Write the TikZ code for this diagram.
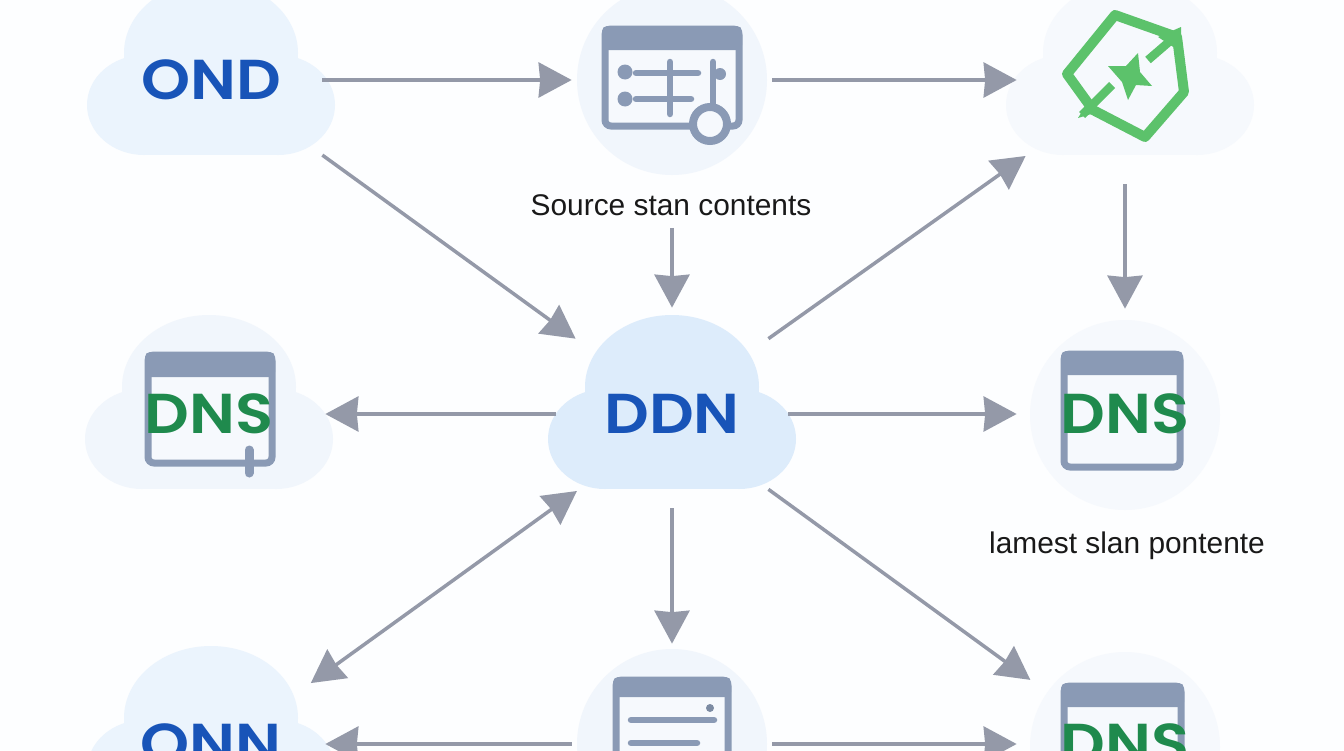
\documentclass[tikz,border=0pt]{standalone}
\usepackage{fontspec}
\setmainfont{Liberation Sans}
\newfontfamily\logofont{Poppins SemiBold}[FakeStretch=1.11]
\usetikzlibrary{positioning, arrows.meta}
\definecolor{PageWhite}{RGB}{253, 254, 255}
\definecolor{ArrowGray}{RGB}{148, 153, 168}
\definecolor{IconSlate}{RGB}{138, 154, 181}
\definecolor{WindowWhite}{RGB}{246, 249, 253}
\definecolor{LogoBlue}{RGB}{24, 84, 184}
\definecolor{LogoGreen}{RGB}{31, 138, 77}
\definecolor{BadgeGreen}{RGB}{92, 194, 107}
\definecolor{CloudMain}{RGB}{221, 236, 251}
\definecolor{CloudSoft}{RGB}{235, 244, 253}
\definecolor{CloudPale}{RGB}{241, 246, 252}
\definecolor{CloudFaint}{RGB}{246, 249, 253}

\begin{document}
\begin{tikzpicture}[
    x=0.2mm, y=-0.2mm,
    cloudhub/.style={rectangle, inner sep=0pt, font=\logofont\fontsize{32}{32}\selectfont},
    ringhub/.style={circle, inner sep=0pt, font=\logofont\fontsize{32}{32}\selectfont},
    bluetext/.style={text=LogoBlue},
    greentext/.style={text=LogoGreen},
    caption/.style={inner sep=0pt, font=\fontsize{17}{20}\selectfont, text=black!90},
    arrow/.style={-{Stealth[length=6.6mm,width=7mm,inset=0.3mm]}, line width=0.7mm, ArrowGray},
    twoway/.style={{Stealth[length=6.6mm,width=7mm,inset=0.3mm]}-{Stealth[length=6.6mm,width=7mm,inset=0.3mm]}, line width=0.7mm, ArrowGray},
    window/.style={draw=IconSlate, fill=WindowWhite, line width=1.4mm, rounded corners=1.2mm},
    titlebar/.style={fill=IconSlate, rounded corners=1mm},
    iconline/.style={IconSlate, line width=1.3mm, line cap=round}
  ]
    \useasboundingbox (0,0) rectangle (1344,750);
    \fill[PageWhite] (0,0) rectangle (1344,750);

    % Cloud backgrounds
    \foreach \x/\y/\c in {211/80/CloudSoft, 1130/80/CloudFaint, 209/414/CloudPale, 672/414/CloudMain, 211/745/CloudSoft} {
      \fill[\c] (\x,\y-27) ellipse (87*0.2mm and 72*0.2mm);
      \fill[\c] (\x-67,\y+25) ellipse (57*0.2mm and 50*0.2mm);
      \fill[\c] (\x+67,\y+25) ellipse (57*0.2mm and 50*0.2mm);
      \fill[\c] (\x-67,\y-10) rectangle (\x+67,\y+75);
    }

    % Round backgrounds
    \foreach \x/\y/\c in {672/80/CloudPale, 1125/415/CloudFaint, 672/744/CloudPale, 1125/747/CloudFaint} {
      \fill[\c] (\x,\y) circle (95*0.2mm);
    }

    % Settings window
    \draw[window] (605,29) rectangle (739,126);
    \fill[titlebar] (602,26) rectangle (742,50);
    \fill[IconSlate] (625,72) circle (7.5*0.2mm);
    \fill[IconSlate] (625,99) circle (7.5*0.2mm);
    \draw[iconline] (636,73) -- (698,73);
    \draw[iconline] (636,99) -- (691,99);
    \draw[iconline] (670,62) -- (670,114);
    \draw[iconline] (713,62) -- (713,108);
    \fill[IconSlate] (720,74) circle (6*0.2mm);
    \draw[IconSlate, fill=WindowWhite, line width=1.6mm] (710,124) circle (17*0.2mm);

    % Green badge
    \draw[BadgeGreen, line width=2mm, line join=round] (1115,15) -- (1177,37) -- (1184,92) -- (1145,137) -- (1093,110) -- (1067,74) -- cycle;
    \draw[BadgeGreen, line width=1.7mm] (1148,60) -- (1177,35);
    \draw[BadgeGreen, line width=1.7mm] (1112,85) -- (1082,115);
    \fill[BadgeGreen] (1181,27) -- (1181,52) -- (1158,37) -- cycle;
    \fill[BadgeGreen] (1078,118) -- (1088,102) -- (1098,112) -- cycle;
    \fill[BadgeGreen] (1108,66) -- (1126,66) -- (1138,53) -- (1140,72) -- (1152,86) -- (1136,85) -- (1128,100) -- (1122,82) -- cycle;

    % DNS windows
    \draw[window] (148,355) rectangle (272,463);
    \fill[titlebar] (145,352) rectangle (275,377);
    \draw[IconSlate, line width=1.8mm, line cap=round] (249,450) -- (249,473);
    \draw[window] (1064,354) rectangle (1180,467);
    \fill[titlebar] (1061,351) rectangle (1183,375);
    \draw[window] (1064,686) rectangle (1181,800);
    \fill[titlebar] (1061,683) rectangle (1184,707);

    % Document window
    \draw[window] (616,680) rectangle (728,800);
    \fill[titlebar] (613,677) rectangle (731,697);
    \fill[IconSlate!90!black] (710,708) circle (4*0.2mm);
    \draw[iconline] (631,720) -- (714,720);
    \draw[iconline] (631,743) -- (697,743);

    % Hubs
    \node[cloudhub, bluetext, minimum width=44.4mm, minimum height=32.8mm] (ond) at (211,80) {OND};
    \node[ringhub, minimum size=40mm] (settings) at (672,80) {};
    \node[cloudhub, minimum width=45.2mm, minimum height=41.6mm] (badge) at (1130,80) {};
    \node[cloudhub, greentext, minimum width=46.4mm, minimum height=20mm] (dnsleft) at (209,414) {DNS};
    \node[ringhub, bluetext, minimum size=48.8mm] (ddn) at (672,414) {DDN};
    \node[ringhub, greentext, minimum size=43.2mm] (dnsright) at (1125,414) {DNS};
    \node[cloudhub, bluetext, minimum width=45.6mm, minimum height=29.6mm] (onn) at (211,744) {ONN};
    \node[ringhub, minimum size=40mm] (doc) at (672,744) {};
    \node[ringhub, greentext, minimum size=43.2mm] (dnsbottom) at (1125,744) {DNS};

    % Captions
    \node[caption] (srclabel) at (671,205) {Source stan contents};
    \node[caption] (dstlabel) at (1127,546) {lamest slan pontente};

    % Connections: top row
    \draw[arrow] (ond) -- (settings);
    \draw[arrow] (settings) -- (badge);
    \draw[arrow] (ond.-34.4) -- (ddn.142.7);
    \draw[arrow, shorten <=2.4mm, shorten >=-3.2mm] (srclabel.south -| ddn) -- (ddn);
    \draw[arrow, shorten >=-2.2mm] (ddn.38.4) -- (badge.216);
    \draw[arrow, shorten >=-0.6mm] (badge.south -| dnsright) -- (dnsright);

    % Connections: from the middle
    \draw[arrow, shorten <=-1.3mm] (ddn) -- (dnsleft);
    \draw[arrow, shorten <=-1.3mm] (ddn) -- (dnsright);
    \draw[twoway, shorten >=-3.6mm] (ddn.219) -- (onn.32.9);
    \draw[arrow, shorten <=-5.6mm] (ddn) -- (doc);
    \draw[arrow, shorten >=1.2mm] (ddn.-38.5) -- (dnsbottom.146);

    % Connections: bottom row
    \draw[arrow] (doc) -- (onn);
    \draw[arrow] (doc) -- (dnsbottom);
  \end{tikzpicture}
\end{document}
